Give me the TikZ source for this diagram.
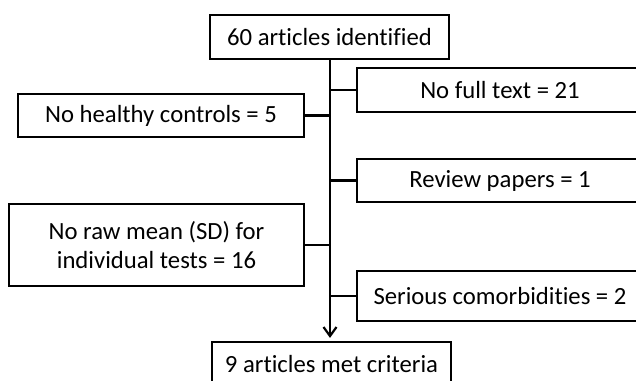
\documentclass[tikz,border=0pt]{standalone}
\usepackage{fontspec}
\setmainfont{Carlito}[Ligatures=NoCommon]
\usetikzlibrary{arrows.meta}
\begin{document}
\begin{tikzpicture}[x=1pt, y=-1pt, line join=miter, >={Straight Barb[length=9pt,width=13pt]},
	box/.style={draw, line width=2.2pt, inner sep=0pt, align=center, minimum width=286pt, minimum height=44pt,
		font=\fontsize{24.7}{29}\selectfont}]
	\def\spine{330}
	\clip (0,0) rectangle (636,380);
	%\draw[color=gray!50,dashed] (0,0) grid[step=20] (636,380);
	\node[box, minimum width=239pt] (top) at (329.5,37) {60 articles identified};
	\node[box] (nofull) at (500,90) {No full text = 21};
	\node[box, minimum height=43pt] (healthy) at (161,115.5) {No healthy controls = 5};
	\node[box, minimum height=43pt] (review) at (500,180.5) {Review papers = 1};
	\node[box, minimum width=295pt, minimum height=82pt] (raw) at (156.5,245) {No raw mean (SD) for\\individual tests = 16};
	\node[box, minimum height=50pt] (serious) at (500,296) {Serious comorbidities = 2};
	\node[box, minimum width=239pt] (final) at (331.5,364) {9 articles met criteria};
	\draw[->, line width=2.2pt, shorten >=3pt] (top.south -| \spine,0) -- (final.north -| \spine,0);
	\foreach \n in {nofull,healthy,review,raw,serious}
		\draw[line width=2.2pt] (\n) -- (\n -| \spine,0);
\end{tikzpicture}
\end{document}
